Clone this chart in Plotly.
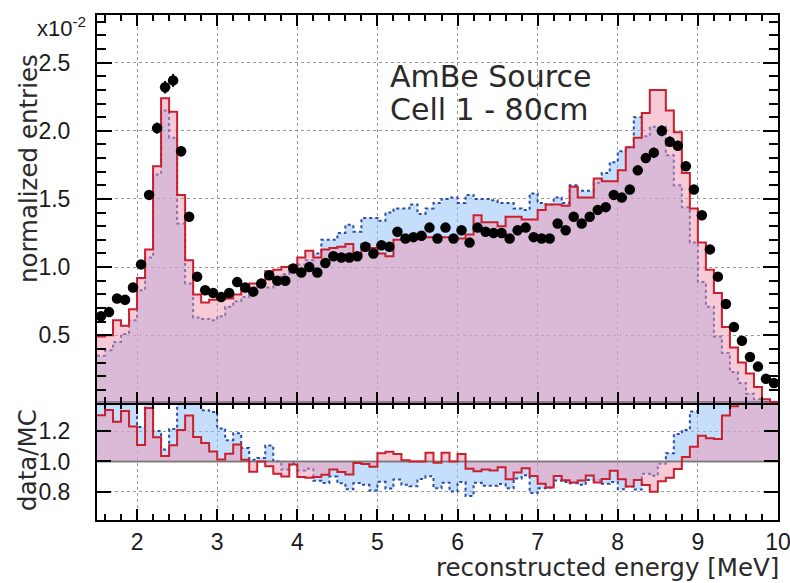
import numpy as np
import plotly.graph_objects as go

# ---------------- data (units of 1e-2) ----------------
e_min, e_max, bin_w = 1.5, 10.0, 0.1

data_vals = [0.64, 0.67, 0.77, 0.76, 0.85, 1.02, 1.53, 2.02, 2.32, 2.37,
             1.85, 1.37, 0.93, 0.83, 0.81, 0.78, 0.81, 0.89, 0.85, 0.82,
             0.88, 0.94, 0.90, 0.90, 0.99, 0.96, 1.00, 0.96, 1.03, 1.08,
             1.07, 1.07, 1.08, 1.15, 1.10, 1.16, 1.15, 1.26, 1.21, 1.22,
             1.23, 1.29, 1.21, 1.29, 1.21, 1.27, 1.18, 1.29, 1.26, 1.25,
             1.25, 1.21, 1.27, 1.29, 1.22, 1.21, 1.21, 1.32, 1.27, 1.37,
             1.32, 1.37, 1.42, 1.44, 1.53, 1.51, 1.57, 1.71, 1.80, 1.84,
             2.00, 1.92, 1.89, 1.74, 1.57, 1.38, 1.13, 0.93, 0.73, 0.56,
             0.46, 0.34, 0.27, 0.18, 0.15]

mc_red = [0.49, 0.50, 0.61, 0.57, 0.69, 0.92, 1.13, 1.74, 2.24, 2.14,
          1.53, 1.05, 0.80, 0.74, 0.76, 0.77, 0.77, 0.80, 0.84, 0.88,
          0.88, 0.97, 0.98, 1.00, 1.01, 1.07, 1.12, 1.07, 1.13, 1.14,
          1.15, 1.17, 1.09, 1.17, 1.14, 1.10, 1.08, 1.20, 1.20, 1.22,
          1.23, 1.22, 1.22, 1.22, 1.21, 1.21, 1.24, 1.38, 1.33, 1.33,
          1.30, 1.37, 1.37, 1.35, 1.35, 1.42, 1.46, 1.46, 1.45, 1.59,
          1.51, 1.51, 1.65, 1.63, 1.63, 1.71, 1.88, 1.95, 2.13, 2.30,
          2.30, 2.15, 1.99, 1.69, 1.43, 1.18, 0.98, 0.81, 0.56, 0.41,
          0.30, 0.22, 0.12, 0.03, 0.01]

mc_blue = [0.35, 0.39, 0.45, 0.51, 0.61, 0.83, 1.07, 1.68, 2.15, 1.95,
           1.32, 0.88, 0.63, 0.62, 0.61, 0.64, 0.71, 0.75, 0.78, 0.81,
           0.86, 0.85, 0.90, 0.95, 1.00, 1.02, 1.05, 1.10, 1.20, 1.20,
           1.25, 1.31, 1.26, 1.36, 1.36, 1.34, 1.40, 1.43, 1.43, 1.46,
           1.39, 1.43, 1.47, 1.50, 1.51, 1.47, 1.53, 1.50, 1.50, 1.49,
           1.47, 1.47, 1.43, 1.42, 1.54, 1.47, 1.46, 1.51, 1.47, 1.60,
           1.56, 1.56, 1.62, 1.69, 1.77, 1.85, 1.88, 2.10, 1.96, 2.03,
           2.03, 1.82, 1.60, 1.44, 1.18, 0.89, 0.71, 0.49, 0.37, 0.23,
           0.15, 0.07, 0.03, 0.01, 0.01]

top_ticks = [0.5, 1.0, 1.5, 2.0, 2.5]
ratio_ticks = [0.8, 1.0, 1.2]
x_ticks = [2, 3, 4, 5, 6, 7, 8, 9, 10]

# ---------------- derived ----------------
n = len(data_vals)
edges = np.round(e_min + bin_w * np.arange(n + 1), 3)
centers = np.round(edges[:-1] + bin_w / 2, 3)
d = np.array(data_vals)
r = np.array(mc_red)
b = np.array(mc_blue)
ratio_red = d / r
ratio_blue = d / b


def step(vals):
    v = list(vals)
    return list(edges), v + [v[-1]]


RED_LINE = "#cc1f2d"
BLUE_LINE = "#2a4aa8"
RED_FILL = "rgba(239,150,178,0.5)"
BLUE_FILL = "rgba(140,190,248,0.5)"

fig = go.Figure()

# ---- top panel ----
xs, ys = step(mc_blue)
fig.add_trace(go.Scatter(x=xs, y=ys, xaxis="x2", yaxis="y2", mode="lines",
                         line=dict(shape="hv", color=BLUE_LINE, width=2, dash="dot"),
                         fill="tozeroy", fillcolor=BLUE_FILL, showlegend=False))
xs, ys = step(mc_red)
fig.add_trace(go.Scatter(x=xs, y=ys, xaxis="x2", yaxis="y2", mode="lines",
                         line=dict(shape="hv", color=RED_LINE, width=2),
                         fill="tozeroy", fillcolor=RED_FILL, showlegend=False))
fig.add_trace(go.Scatter(x=centers, y=data_vals, xaxis="x2", yaxis="y2", mode="markers",
                         marker=dict(color="black", size=10.5),
                         error_y=dict(type="percent", value=2, color="black", thickness=2, width=0),
                         showlegend=False))

# ---- ratio panel ----
ones = [1.0] * (n + 1)
fig.add_trace(go.Scatter(x=list(edges), y=ones, mode="lines",
                         line=dict(color="#777777", width=1.5), showlegend=False))
xs, ys = step(ratio_blue)
fig.add_trace(go.Scatter(x=xs, y=ys, mode="lines",
                         line=dict(shape="hv", color=BLUE_LINE, width=2, dash="dot"),
                         fill="tonexty", fillcolor=BLUE_FILL, showlegend=False))
fig.add_trace(go.Scatter(x=list(edges), y=ones, mode="lines",
                         line=dict(color="#777777", width=1.5), showlegend=False))
xs, ys = step(ratio_red)
fig.add_trace(go.Scatter(x=xs, y=ys, mode="lines",
                         line=dict(shape="hv", color=RED_LINE, width=2),
                         fill="tonexty", fillcolor=RED_FILL, showlegend=False))

TICKFONT = dict(family="Liberation Sans, Arial, sans-serif", size=23, color="#1a1a1a")
GRID = dict(showgrid=True, gridcolor="#9a9a9a", griddash="dot", gridwidth=1)
FRAME = dict(showline=True, linecolor="black", linewidth=2, mirror="allticks",
             ticks="inside", tickcolor="black", tickwidth=2, automargin=False)

xcommon = dict(range=[e_min, e_max], tickmode="array", tickvals=x_ticks,
               minor=dict(dtick=0.2, tick0=0, ticks="inside", ticklen=6,
                          tickcolor="black", tickwidth=1.5, showgrid=False),
               ticklen=11, **FRAME, **GRID)

fig.update_layout(
    width=790, height=583,
    margin=dict(l=97, r=12, t=15, b=63, autoexpand=False),
    paper_bgcolor="white", plot_bgcolor="white",
    xaxis=dict(anchor="y", domain=[0, 1], tickfont=TICKFONT, ticklabeloverflow="allow",
               **xcommon),
    xaxis2=dict(anchor="y2", domain=[0, 1], matches="x", showticklabels=False, **xcommon),
    yaxis=dict(anchor="x", domain=[0, 0.2317], range=[0.613, 1.387],
               tickmode="array", tickvals=ratio_ticks, ticktext=["0.8", "1.0", "1.2"],
               ticklen=14, tickfont=TICKFONT, ticklabelstandoff=20, **FRAME, **GRID),
    yaxis2=dict(anchor="x2", domain=[0.2317, 1], range=[0.003, 2.85],
                tickmode="array", tickvals=top_ticks,
                ticktext=["0.5", "1.0", "1.5", "2.0", "2.5"],
                minor=dict(dtick=0.1, tick0=0, ticks="inside", ticklen=9,
                           tickcolor="black", tickwidth=2, showgrid=False),
                ticklen=15, tickfont=TICKFONT, ticklabelstandoff=20, **FRAME, **GRID),
)

TITLEFONT = dict(family="DejaVu Sans, Verdana, sans-serif", size=24.5, color="#2a2a2a")
fig.add_annotation(text="normalized entries", xref="paper", yref="paper",
                   x=-0.1013, y=0.695, textangle=-90, showarrow=False,
                   xanchor="center", yanchor="middle", font=TITLEFONT)
fig.add_annotation(text="data/MC", xref="paper", yref="paper",
                   x=-0.1013, y=0.119, textangle=-90, showarrow=False,
                   xanchor="center", yanchor="middle", font=TITLEFONT)
fig.add_annotation(text="reconstructed energy [MeV]", xref="paper", yref="paper",
                   x=1.004, y=-0.095, showarrow=False, xanchor="right", yanchor="middle",
                   font=dict(family="DejaVu Sans, Verdana, sans-serif", size=24.5, color="#2a2a2a"))
fig.add_annotation(text="x10<sup>-2</sup>", xref="paper", yref="paper",
                   x=-0.0514, y=0.976, showarrow=False, xanchor="center", yanchor="middle",
                   font=dict(family="Liberation Sans, Arial, sans-serif", size=22, color="#1a1a1a"))
ANNFONT = dict(family="DejaVu Sans, Verdana, sans-serif", size=30, color="#2a2a2a")
fig.add_annotation(text="AmBe Source", xref="paper", yref="paper",
                   x=0.4273, y=(520 - 76) / 505, showarrow=False, xanchor="left",
                   yanchor="middle", font=ANNFONT)
fig.add_annotation(text="Cell 1 - 80cm", xref="paper", yref="paper",
                   x=0.4273, y=(520 - 109) / 505, showarrow=False, xanchor="left",
                   yanchor="middle", font=ANNFONT)

fig.write_html("out.html")
